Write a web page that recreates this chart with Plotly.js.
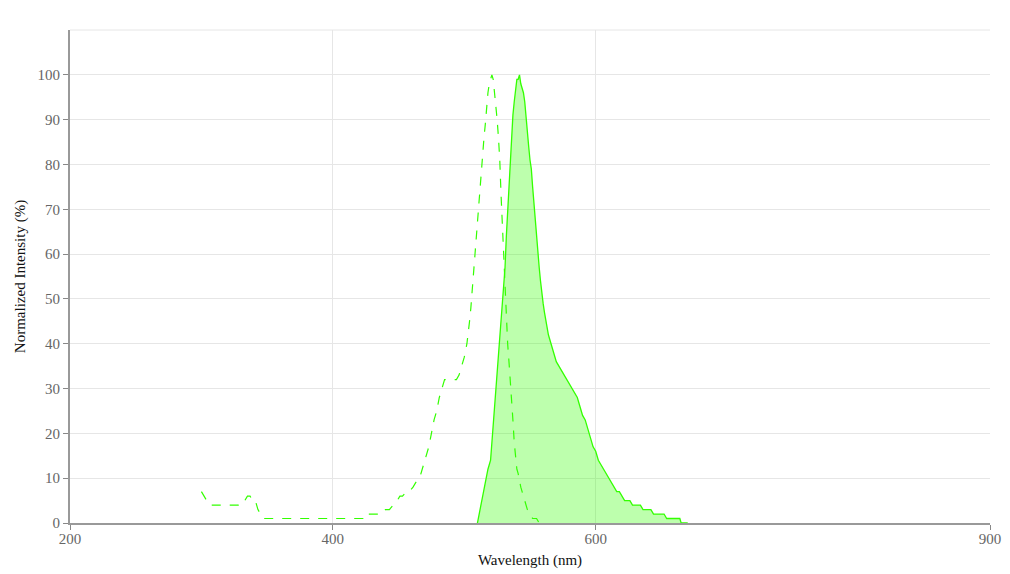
<!DOCTYPE html>
<html>
<head>
<meta charset="utf-8">
<script src="https://cdn.plot.ly/plotly-3.0.1.min.js"></script>
<style>
  html, body { margin: 0; padding: 0; background: #fff; }
  #plot { width: 1010px; height: 574px; }
</style>
</head>
<body>
<div id="plot"></div>
<script>
// excitation spectrum (dashed)
const exWavelength = [300, 302, 304, 306, 310, 315, 320, 325, 328, 330, 333, 335, 337, 339, 341, 343, 345, 347, 350, 356, 360, 380, 400, 420, 423, 424, 430, 437, 440, 443, 446, 449, 451, 453, 456, 458, 461, 463, 466, 468, 471, 473, 475, 477, 479, 481, 483, 485, 488, 491, 494, 496, 498, 500, 502, 503, 504, 505, 506, 507, 508, 509, 510, 511, 512, 513, 514, 515, 516, 517, 518, 519, 520, 521, 522, 523, 524, 525, 526, 527, 528, 529, 530, 531, 532, 533, 534, 535, 536, 537, 538, 539, 540, 541, 542, 543, 544, 546, 547, 548, 550, 552, 555, 557, 559];
const exIntensity = [7, 6, 5, 4, 4, 4, 4, 4, 4, 5, 5, 6, 6, 5, 5, 3, 2, 1, 1, 1, 1, 1, 1, 1, 1, 2, 2, 2, 3, 3, 4, 5, 6, 6, 7, 7, 8, 9, 10, 12, 15, 17, 20, 23, 25, 28, 30, 32, 32, 32, 32, 33, 35, 37, 40, 42, 45, 48, 52, 56, 59, 63, 67, 71, 75, 78, 82, 86, 89, 93, 96, 98, 99, 100, 99, 96, 94, 90, 86, 81, 73, 66, 58, 51, 46, 40, 36, 32, 29, 23, 18, 15, 12, 11, 9, 8, 7, 5, 4, 3, 2, 1, 1, 0, 0];

// emission spectrum (solid, filled)
const emWavelength = [510, 512, 514, 516, 518, 520, 521, 522, 523, 524, 525, 526, 527, 528, 529, 530, 531, 532, 533, 534, 535, 536, 537, 538, 539, 540, 541, 542, 543, 544, 545, 546, 547, 548, 549, 550, 551, 552, 553, 554, 555, 556, 557, 558, 559, 560, 561, 562, 563, 564, 565, 566, 568, 570, 572, 574, 576, 578, 580, 582, 584, 586, 588, 590, 592, 594, 596, 598, 600, 602, 604, 606, 608, 610, 612, 614, 616, 618, 620, 622, 624, 626, 628, 630, 632, 634, 636, 638, 640, 642, 644, 646, 648, 650, 652, 654, 656, 658, 660, 662, 664, 665, 670];
const emIntensity = [0, 3, 6, 9, 12, 14, 18, 21, 25, 28, 33, 37, 41, 45, 49, 52, 57, 64, 70, 75, 81, 86, 91, 94, 97, 99, 99, 100, 98, 97, 96, 94, 90, 87, 84, 81, 79, 75, 71, 67, 64, 60, 57, 54, 51, 49, 47, 45, 43, 42, 41, 40, 38, 36, 35, 34, 33, 32, 31, 30, 29, 28, 26, 24, 23, 21, 19, 17, 16, 14, 13, 12, 11, 10, 9, 8, 7, 7, 6, 5, 5, 5, 4, 4, 4, 4, 3, 3, 3, 3, 2, 2, 2, 2, 2, 1, 1, 1, 1, 1, 1, 0, 0];

const xTicks = [200, 400, 600, 900];
const yTicks = [0, 10, 20, 30, 40, 50, 60, 70, 80, 90, 100];

const green = '#33ff00';

const traces = [
    {
        type: 'scatter',
        mode: 'lines',
        x: emWavelength,
        y: emIntensity,
        fill: 'tozeroy',
        fillcolor: 'rgba(51,255,0,0.32)',
        line: { color: green, width: 1.3 },
        hoverinfo: 'x+y'
    },
    {
        type: 'scatter',
        mode: 'lines',
        x: exWavelength,
        y: exIntensity,
        line: { color: green, width: 1.2, dash: 'dash' },
        hoverinfo: 'x+y'
    }
];

const serif = 'Liberation Serif, Times New Roman, serif';
const axisFont = { family: serif, size: 15, color: '#666' };
const titleFont = { family: serif, size: 15, color: '#111' };

const layout = {
    width: 1010,
    height: 574,
    margin: { l: 70, r: 20, t: 30, b: 51 },
    paper_bgcolor: '#fff',
    plot_bgcolor: '#fff',
    showlegend: false,
    font: { family: serif },
    xaxis: {
        range: [200, 900],
        tickvals: xTicks,
        ticks: 'outside',
        ticklen: 5,
        tickcolor: '#888',
        tickfont: axisFont,
        ticklabelstandoff: -4,
        showgrid: true,
        gridcolor: '#e6e6e6',
        zeroline: false,
        showline: true,
        linecolor: '#999',
        linewidth: 2,
        title: { text: 'Wavelength (nm)', font: titleFont, standoff: 8 }
    },
    yaxis: {
        range: [0, 110],
        tickvals: yTicks,
        ticks: 'outside',
        ticklen: 5,
        tickcolor: '#888',
        tickfont: axisFont,
        showgrid: true,
        gridcolor: '#e6e6e6',
        zeroline: false,
        showline: true,
        linecolor: '#999',
        linewidth: 2,
        title: { text: 'Normalized Intensity (%)', font: titleFont, standoff: 8 }
    },
    shapes: [
        {
            type: 'line', xref: 'paper', yref: 'paper',
            x0: 0, x1: 1, y0: 1, y1: 1,
            line: { color: '#e6e6e6', width: 1 }
        }
    ]
};

Plotly.newPlot('plot', traces, layout, { displayModeBar: false, staticPlot: true });
</script>
</body>
</html>
